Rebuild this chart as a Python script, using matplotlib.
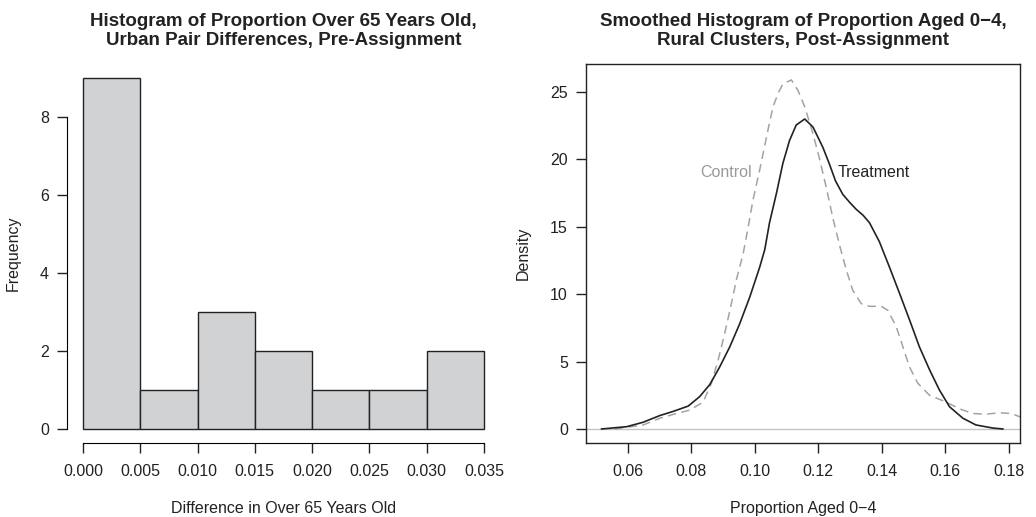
import numpy as np
import matplotlib
matplotlib.use("Agg")
import matplotlib.pyplot as plt

plt.rcParams['font.family'] = ['Liberation Sans', 'DejaVu Sans']

# left panel: histogram of pair differences
bin_edges = [0.000, 0.005, 0.010, 0.015, 0.020, 0.025, 0.030, 0.035]
counts = [9, 1, 3, 2, 1, 1, 2]
hist_xticks = [0.000, 0.005, 0.010, 0.015, 0.020, 0.025, 0.030, 0.035]
hist_yticks = [0, 2, 4, 6, 8]

# right panel: smoothed densities
treat_x = [0.0518, 0.0597, 0.0649, 0.0702, 0.0743, 0.0791, 0.0827, 0.0859, 0.0890,
           0.0922, 0.0953, 0.0985, 0.1016, 0.1032, 0.1047, 0.1069, 0.1089, 0.1110,
           0.1131, 0.1158, 0.1184, 0.1215, 0.1235, 0.1255, 0.1278, 0.1300, 0.1320,
           0.1342, 0.1362, 0.1393, 0.1425, 0.1456, 0.1488, 0.1519, 0.1551, 0.1582,
           0.1614, 0.1656, 0.1697, 0.1750, 0.1782]
treat_y = [0.0, 0.17, 0.5, 1.0, 1.3, 1.7, 2.4, 3.3, 4.6,
           6.1, 7.8, 9.8, 12.0, 13.3, 15.3, 17.5, 19.7, 21.4,
           22.55, 23.0, 22.4, 20.9, 19.7, 18.4, 17.4, 16.8, 16.3,
           15.85, 15.3, 13.9, 12.0, 10.1, 8.1, 6.1, 4.4, 2.9,
           1.65, 0.8, 0.3, 0.07, 0.0]
ctrl_x = [0.0560, 0.0649, 0.0702, 0.0754, 0.0796, 0.0838, 0.0864, 0.0885, 0.0906,
          0.0927, 0.0943, 0.0964, 0.0980, 0.0995, 0.1015, 0.1030, 0.1045, 0.1058,
          0.1074, 0.1089, 0.1116, 0.1137, 0.1158, 0.1184, 0.1205, 0.1226, 0.1247,
          0.1268, 0.1289, 0.1309, 0.1336, 0.1362, 0.1399, 0.1420, 0.1446, 0.1467,
          0.1488, 0.1514, 0.1551, 0.1603, 0.1645, 0.1687, 0.1729, 0.1771, 0.1808,
          0.1836]
ctrl_y = [0.0, 0.3, 0.8, 1.15, 1.4, 2.0, 3.4, 5.1, 7.1,
          9.3, 11.1, 13.0, 15.0, 17.0, 19.1, 20.8, 22.5, 23.9,
          24.9, 25.6, 25.9, 25.1, 23.9, 21.9, 20.0, 17.9, 15.6,
          13.6, 11.8, 10.3, 9.3, 9.1, 9.1, 8.8, 7.6, 6.1,
          4.6, 3.4, 2.5, 2.0, 1.5, 1.15, 1.1, 1.2, 1.15,
          0.9]
dens_xticks = [0.06, 0.08, 0.10, 0.12, 0.14, 0.16, 0.18]
dens_yticks = [0, 5, 10, 15, 20, 25]

title_font = dict(fontweight='bold', fontsize=13.5, linespacing=1.1)
tick_fs = 11.5
label_fs = 11.5
ink = '#222222'

fig = plt.figure(figsize=(10.36, 5.17), dpi=100)
W, H = 1036, 517
ax1 = fig.add_axes([67 / W, 74 / H, 433 / W, 379 / H])
ax2 = fig.add_axes([586 / W, 74 / H, 434 / W, 379 / H])

# --- histogram ---
ax1.bar(bin_edges[:-1], counts, width=np.diff(bin_edges), align='edge',
        color='#d1d2d4', edgecolor=ink, linewidth=1.0)
ax1.set_xlim(-0.0014, 0.0364)
ax1.set_ylim(-0.36, 9.36)
for s in ['top', 'right']:
    ax1.spines[s].set_visible(False)
ax1.spines['left'].set_bounds(0, 8)
ax1.spines['bottom'].set_bounds(0, 0.035)
ax1.set_xticks(hist_xticks)
ax1.set_xticklabels([f"{v:.3f}" for v in hist_xticks])
ax1.set_yticks(hist_yticks)
ax1.set_xlabel("Difference in Over 65 Years Old", fontsize=label_fs, color=ink, labelpad=16)
ax1.set_ylabel("Frequency", fontsize=label_fs, color=ink, labelpad=14)
ax1.set_title("Histogram of Proportion Over 65 Years Old,\nUrban Pair Differences, Pre-Assignment",
              pad=14, color=ink, **title_font)

# --- densities ---
ax2.axhline(0, color='#c4c4c4', linewidth=1.0, zorder=1)
ax2.plot(ctrl_x, ctrl_y, color='#a3a3a3', linewidth=1.1, dashes=(5.5, 3.5), zorder=2)
ax2.plot(treat_x, treat_y, color=ink, linewidth=1.2, zorder=3)
ax2.text(0.0909, 19.0, "Control", color='#9a9a9a', fontsize=tick_fs,
         ha='center', va='center')
ax2.text(0.1375, 19.0, "Treatment", color=ink, fontsize=tick_fs,
         ha='center', va='center')
ax2.set_xlim(0.0469, 0.1836)
ax2.set_ylim(-1.04, 27.08)
ax2.set_xticks(dens_xticks)
ax2.set_xticklabels([f"{v:.2f}" for v in dens_xticks])
ax2.set_yticks(dens_yticks)
for s in ax2.spines.values():
    s.set_color(ink)
    s.set_linewidth(1.0)
ax2.set_xlabel("Proportion Aged 0\u22124", fontsize=label_fs, color=ink, labelpad=16)
ax2.set_ylabel("Density", fontsize=label_fs, color=ink, labelpad=14)
ax2.set_title("Smoothed Histogram of Proportion Aged 0\u22124,\nRural Clusters, Post-Assignment",
              pad=14, color=ink, **title_font)

for ax in (ax1, ax2):
    ax.tick_params(direction='out', length=7, width=1.0, color=ink,
                   labelsize=tick_fs, labelcolor=ink)
    ax.tick_params(axis='x', pad=8)
    ax.tick_params(axis='y', pad=6)

fig.savefig("out.png", dpi=100)
